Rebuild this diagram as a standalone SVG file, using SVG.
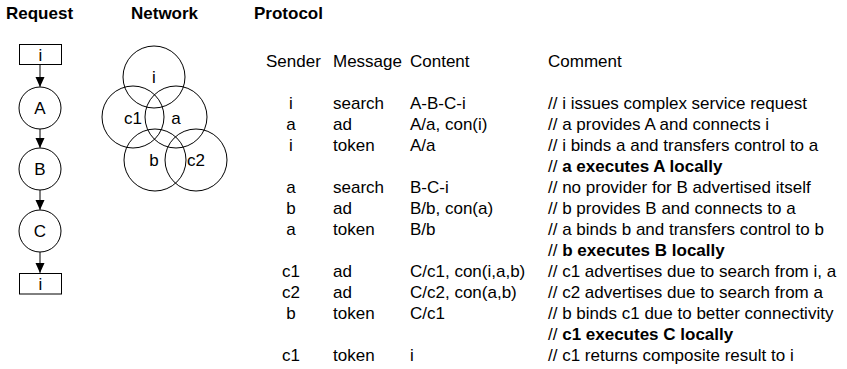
<svg xmlns="http://www.w3.org/2000/svg" width="847" height="369" viewBox="0 0 847 369">
<defs>
<marker id="ah" markerWidth="9" markerHeight="11" refX="10" refY="4.5" orient="auto" markerUnits="userSpaceOnUse">
<path d="M0,0 L10,4.5 L0,9 z" fill="#000"/>
</marker>
<style>
text{font-family:"Liberation Sans",Arial,sans-serif;font-size:17px;fill:#000}
.t{font-weight:bold}
.c{text-anchor:middle}
.b{font-weight:bold}
.n{fill:#fff;stroke:#000;stroke-width:1}
.nc{fill:none;stroke:#000;stroke-width:1}
.e{stroke:#000;stroke-width:1;fill:none}
</style>
</defs>
<rect width="847" height="369" fill="#fff"/>
<g id="titles">
<text class="t" x="6" y="19">Request</text>
<text class="t" x="131" y="19">Network</text>
<text class="t" x="254" y="19">Protocol</text>
</g>
<g id="connectors">
<line class="e" x1="40" y1="64.5" x2="40" y2="87" marker-end="url(#ah)"/>
<line class="e" x1="40" y1="129" x2="40" y2="148" marker-end="url(#ah)"/>
<line class="e" x1="40" y1="190" x2="40" y2="210" marker-end="url(#ah)"/>
<line class="e" x1="40" y1="252" x2="40" y2="273" marker-end="url(#ah)"/>
</g>
<g id="req-i-top"><rect class="n" x="19.5" y="44.5" width="42" height="20"/><text class="c" x="40.5" y="60.5">i</text></g>
<g id="req-A"><circle class="n" cx="40" cy="108" r="21"/><text class="c" x="40" y="114">A</text></g>
<g id="req-B"><circle class="n" cx="40" cy="169" r="21"/><text class="c" x="40" y="175">B</text></g>
<g id="req-C"><circle class="n" cx="40" cy="231" r="21"/><text class="c" x="40" y="237">C</text></g>
<g id="req-i-bottom"><rect class="n" x="19.5" y="273.5" width="42" height="20.5"/><text class="c" x="40.5" y="290">i</text></g>
<g id="net">
<g id="net-i"><circle class="nc" cx="154" cy="77" r="31"/><text class="c" x="154" y="83">i</text></g>
<g id="net-c1"><circle class="nc" cx="133" cy="117" r="31"/><text class="c" x="133" y="124">c1</text></g>
<g id="net-a"><circle class="nc" cx="176" cy="117" r="31"/><text class="c" x="176" y="124">a</text></g>
<g id="net-b"><circle class="nc" cx="155" cy="160" r="31"/><text class="c" x="154" y="166">b</text></g>
<g id="net-c2"><circle class="nc" cx="196" cy="160" r="31"/><text class="c" x="196" y="166">c2</text></g>
</g>
<g id="protocol">
<text x="266" y="67">Sender</text>
<text x="333" y="67">Message</text>
<text x="410" y="67">Content</text>
<text x="548" y="67">Comment</text>
<g class="col-sender">
<text class="c" x="291" y="109">i</text>
<text class="c" x="291" y="130">a</text>
<text class="c" x="291" y="151">i</text>
<text class="c" x="291" y="193">a</text>
<text class="c" x="291" y="214">b</text>
<text class="c" x="291" y="235">a</text>
<text class="c" x="291" y="277">c1</text>
<text class="c" x="291" y="298">c2</text>
<text class="c" x="291" y="319">b</text>
<text class="c" x="291" y="361">c1</text>
</g>
<g class="col-message">
<text x="333" y="109">search</text>
<text x="333" y="130">ad</text>
<text x="333" y="151">token</text>
<text x="333" y="193">search</text>
<text x="333" y="214">ad</text>
<text x="333" y="235">token</text>
<text x="333" y="277">ad</text>
<text x="333" y="298">ad</text>
<text x="333" y="319">token</text>
<text x="333" y="361">token</text>
</g>
<g class="col-content">
<text x="410" y="109">A-B-C-i</text>
<text x="410" y="130">A/a, con(i)</text>
<text x="410" y="151">A/a</text>
<text x="410" y="193">B-C-i</text>
<text x="410" y="214">B/b, con(a)</text>
<text x="410" y="235">B/b</text>
<text x="410" y="277">C/c1, con(i,a,b)</text>
<text x="410" y="298">C/c2, con(a,b)</text>
<text x="410" y="319">C/c1</text>
<text x="410" y="361">i</text>
</g>
<g class="col-comment">
<text x="548" y="109">// i issues complex service request</text>
<text x="548" y="130">// a provides A and connects i</text>
<text x="548" y="151">// i binds a and transfers control to a</text>
<text x="548" y="172">// <tspan class="b">a executes A locally</tspan></text>
<text x="548" y="193">// no provider for B advertised itself</text>
<text x="548" y="214">// b provides B and connects to a</text>
<text x="548" y="235">// a binds b and transfers control to b</text>
<text x="548" y="256">// <tspan class="b">b executes B locally</tspan></text>
<text x="548" y="277">// c1 advertises due to search from i, a</text>
<text x="548" y="298">// c2 advertises due to search from a</text>
<text x="548" y="319">// b binds c1 due to better connectivity</text>
<text x="548" y="340">// <tspan class="b">c1 executes C locally</tspan></text>
<text x="548" y="361">// c1 returns composite result to i</text>
</g>
</g>
</svg>
